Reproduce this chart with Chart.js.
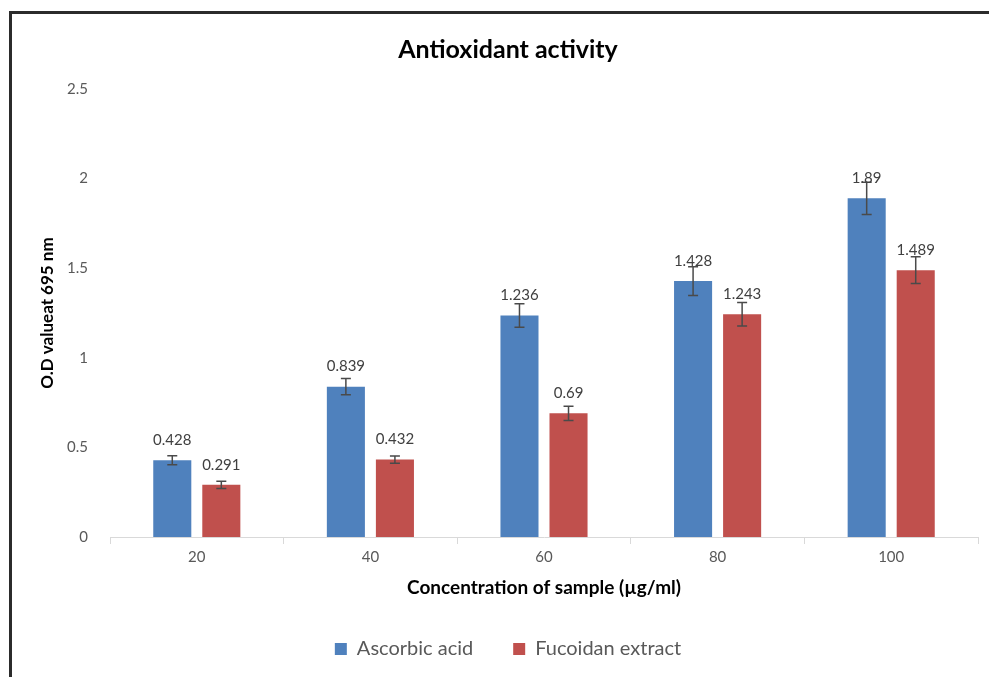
<!DOCTYPE html>
<html>
<head>
<meta charset="utf-8">
<script src="https://cdn.jsdelivr.net/npm/chart.js@4"></script>
<style>
  html, body { margin: 0; padding: 0; background: #fff; overflow: hidden; }
  #wrap { position: relative; width: 989px; height: 677px; }
  #frame { position: absolute; left: 9px; top: 11px; width: 1100px; height: 800px; border: 3px solid #2b2b2b; box-sizing: border-box; }
  #chart { position: absolute; left: 0; top: 0; }
</style>
</head>
<body>
<div id="wrap">
  <div id="frame"></div>
  <canvas id="chart" width="989" height="677"></canvas>
</div>
<script>
// Data
const categories = ['20', '40', '60', '80', '100'];
const ascorbicValues = [0.428, 0.839, 1.236, 1.428, 1.89];
const ascorbicErrors = [0.025, 0.045, 0.065, 0.08, 0.09];
const fucoidanValues = [0.291, 0.432, 0.69, 1.243, 1.489];
const fucoidanErrors = [0.02, 0.02, 0.04, 0.065, 0.075];
const yTicks = [0, 0.5, 1, 1.5, 2, 2.5];

const FONT = 'Lato, "Open Sans", sans-serif';
const TEXT_GRAY = '#595959';

// Error bars + value labels
const errorBarPlugin = {
    id: 'errorBars',
    afterDatasetsDraw(chart) {
        const ctx = chart.ctx;
        const yScale = chart.scales.y;
        chart.data.datasets.forEach((ds, di) => {
            const meta = chart.getDatasetMeta(di);
            meta.data.forEach((bar, i) => {
                const v = ds.data[i];
                const e = ds.errors[i];
                const yTop = yScale.getPixelForValue(v + e);
                const yBot = yScale.getPixelForValue(v - e);
                ctx.save();
                ctx.strokeStyle = '#4a4a4a';
                ctx.lineWidth = 1.5;
                ctx.beginPath();
                ctx.moveTo(bar.x, yTop);
                ctx.lineTo(bar.x, yBot);
                ctx.moveTo(bar.x - 5, yTop);
                ctx.lineTo(bar.x + 5, yTop);
                ctx.moveTo(bar.x - 5, yBot);
                ctx.lineTo(bar.x + 5, yBot);
                ctx.stroke();
                ctx.fillStyle = '#404040';
                ctx.font = '15px ' + FONT;
                ctx.textAlign = 'center';
                ctx.textBaseline = 'middle';
                ctx.fillText(String(v), bar.x, bar.y - 20);
                ctx.restore();
            });
        });
    }
};

const ctx = document.getElementById('chart').getContext('2d');
new Chart(ctx, {
    type: 'bar',
    data: {
        labels: categories,
        datasets: [{
            label: 'Ascorbic acid',
            data: ascorbicValues,
            errors: ascorbicErrors,
            backgroundColor: '#4F81BD'
        }, {
            label: 'Fucoidan extract',
            data: fucoidanValues,
            errors: fucoidanErrors,
            backgroundColor: '#C0504D'
        }]
    },
    options: {
        responsive: false,
        animation: false,
        categoryPercentage: 0.565,
        barPercentage: 0.776,
        layout: { padding: { top: 0, right: 11, bottom: 8, left: 38 } },
        plugins: {
            title: {
                display: true,
                text: 'Antioxidant activity',
                color: '#000',
                font: { family: FONT, size: 25, weight: 'bold' },
                padding: { top: 35, bottom: 24 }
            },
            legend: {
                position: 'bottom',
                labels: {
                    color: TEXT_GRAY,
                    font: { family: FONT, size: 20 },
                    boxWidth: 12,
                    boxHeight: 12,
                    padding: 40
                }
            },
            tooltip: { enabled: false }
        },
        scales: {
            x: {
                grid: { display: true, drawOnChartArea: false, drawTicks: true, tickLength: 7, color: '#d9d9d9' },
                border: { display: true, color: '#d9d9d9' },
                ticks: { color: TEXT_GRAY, font: { family: FONT, size: 15 }, padding: 4 },
                title: {
                    display: true,
                    text: 'Concentration of sample (µg/ml)',
                    color: '#000',
                    font: { family: FONT, size: 19, weight: 'bold' },
                    padding: { top: 8, bottom: 0 }
                },
                afterFit(scale) { scale.height = 62; }
            },
            y: {
                min: 0,
                max: 2.5,
                afterBuildTicks(scale) { scale.ticks = yTicks.map(v => ({ value: v })); },
                grid: { display: false },
                border: { display: false },
                ticks: {
                    color: TEXT_GRAY,
                    font: { family: FONT, size: 15 },
                    padding: 14,
                    callback: v => String(v)
                },
                title: {
                    display: true,
                    text: 'O.D valueat 695 nm',
                    color: '#000',
                    font: { family: FONT, size: 17, weight: 'bold' },
                    padding: { top: -1, bottom: 0 }
                },
                afterFit(scale) { scale.width = 72; }
            }
        }
    },
    plugins: [errorBarPlugin]
});
</script>
</body>
</html>
